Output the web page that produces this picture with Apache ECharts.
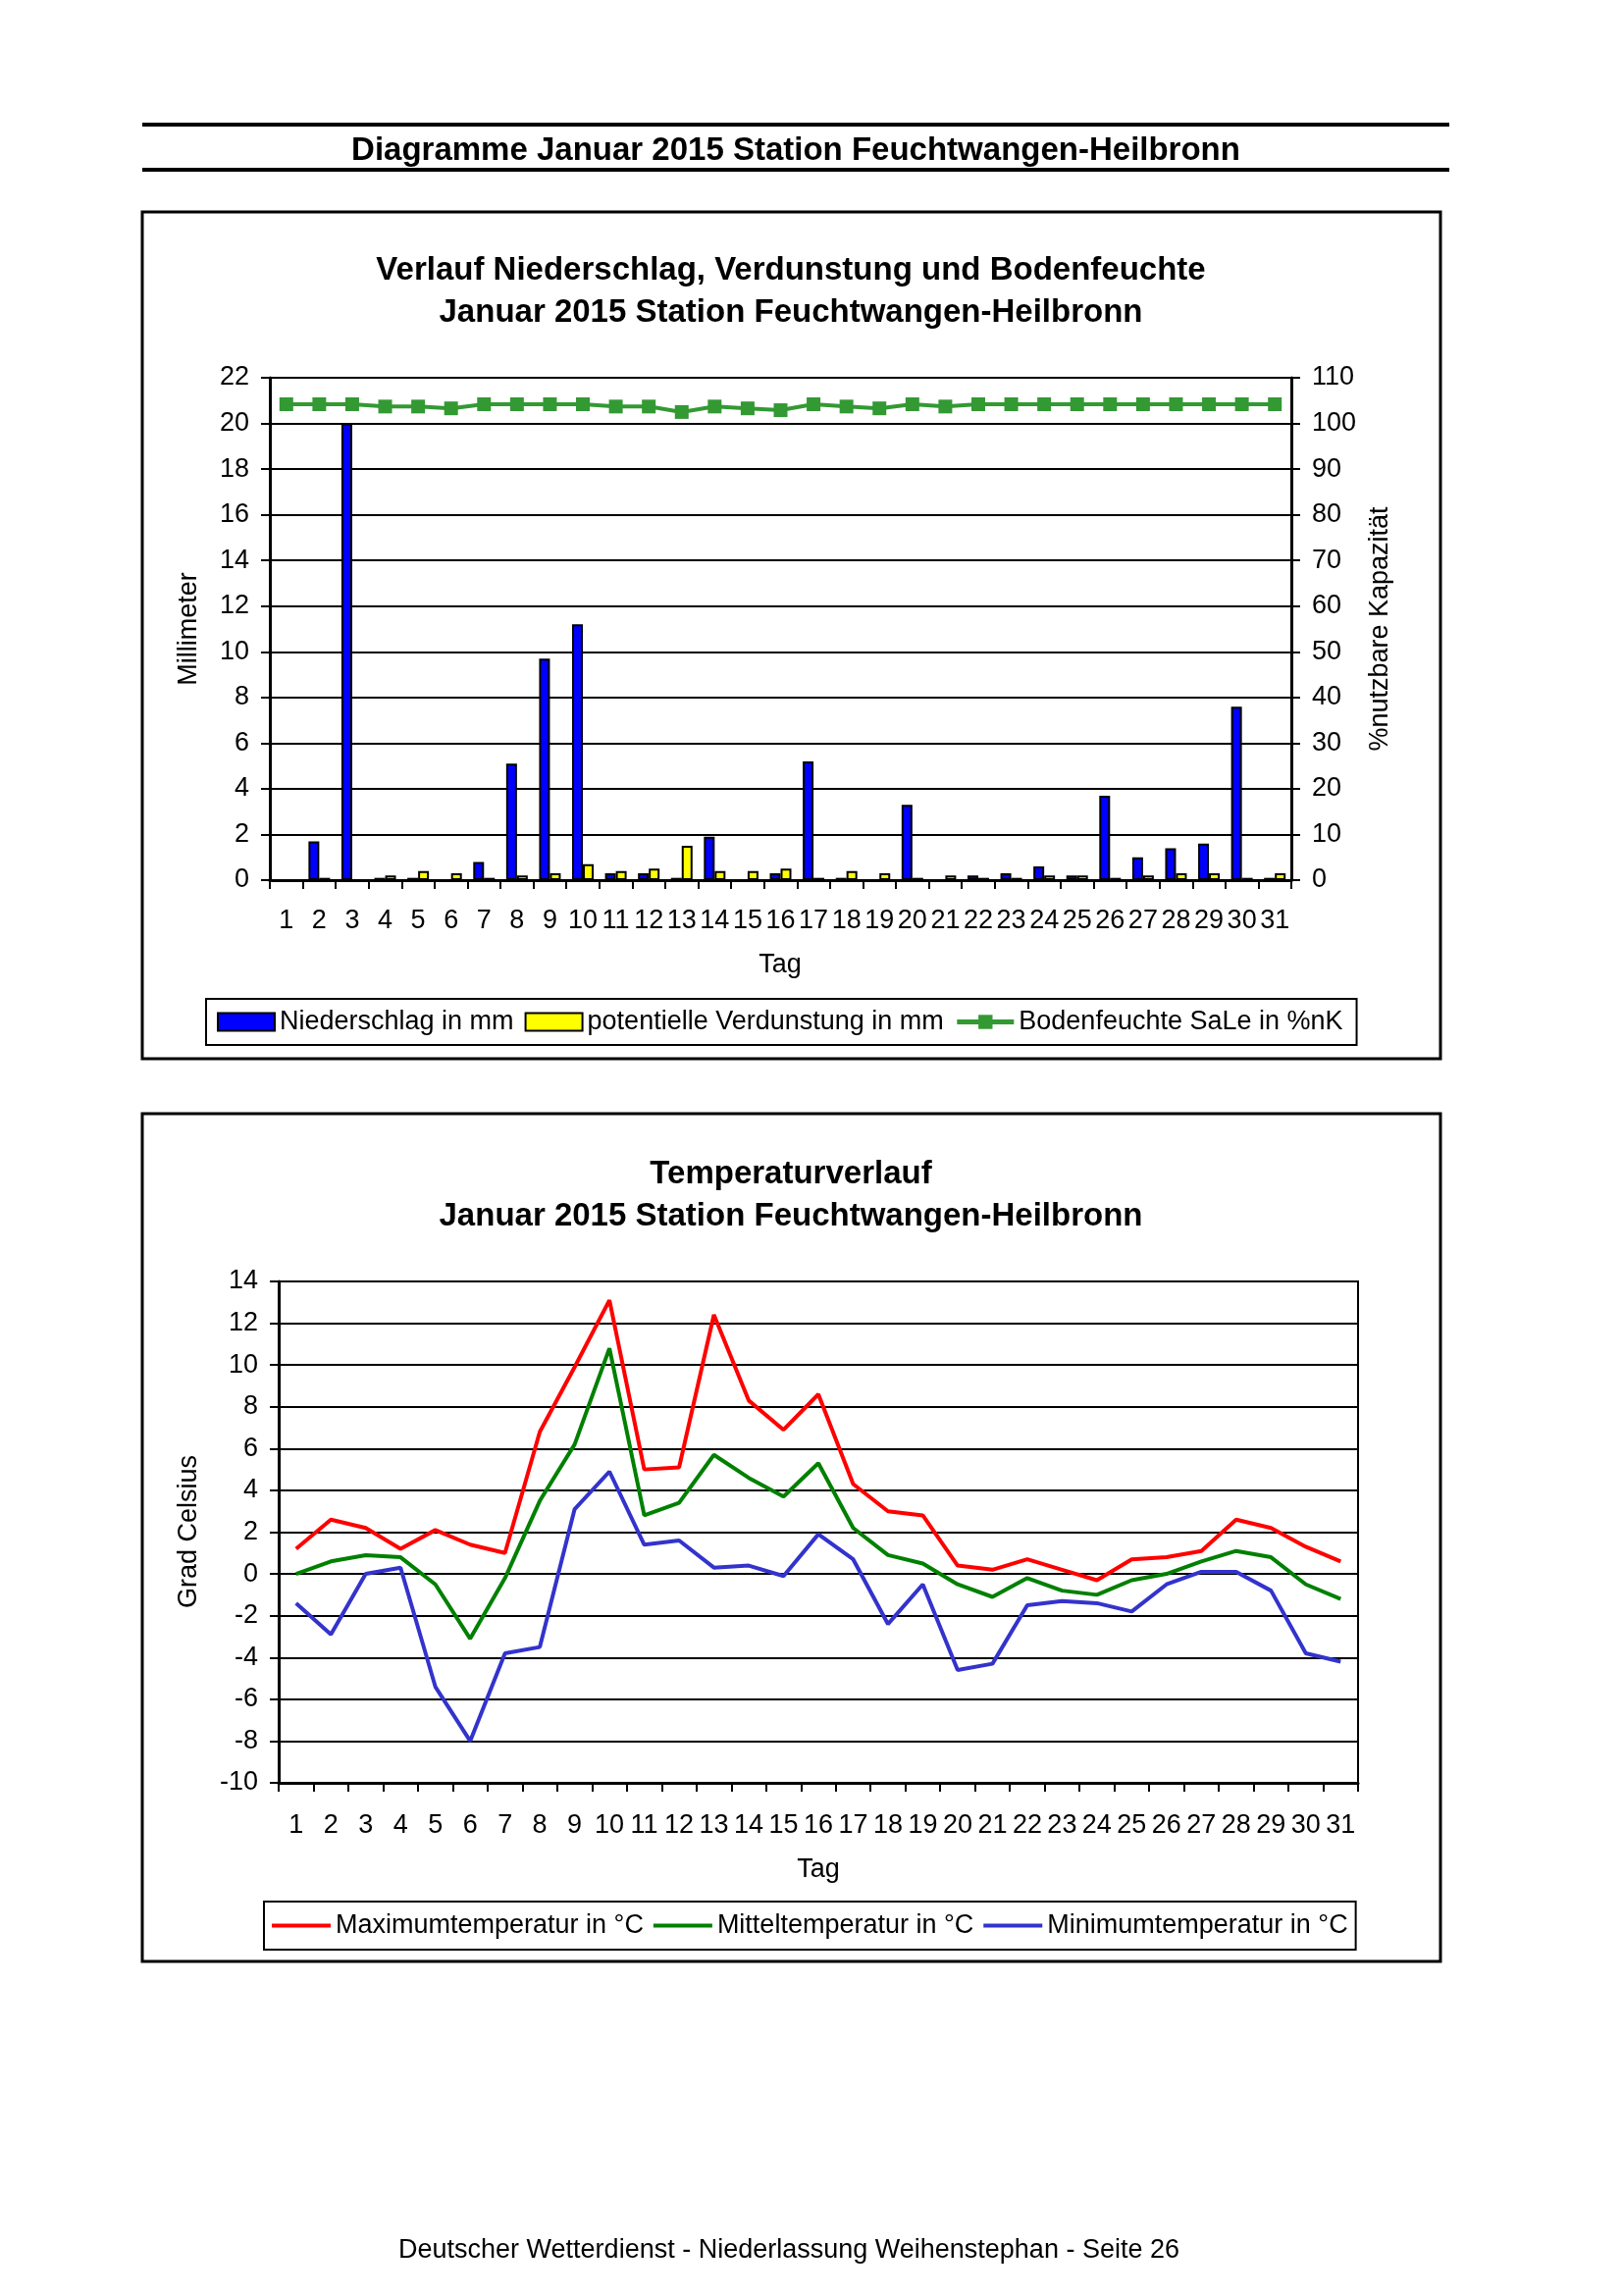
<!DOCTYPE html>
<html><head><meta charset="utf-8">
<script src="https://cdn.jsdelivr.net/npm/echarts@6/dist/echarts.min.js"></script>
<style>html,body{margin:0;padding:0;background:#fff}#c{width:1653px;height:2340px}</style>
</head><body><div id="c"></div>
<script>
const days = ['1','2','3','4','5','6','7','8','9','10','11','12','13','14','15','16','17','18','19','20','21','22','23','24','25','26','27','28','29','30','31'];
const niederschlag = [0,1.7,20.0,0.1,0.1,0,0.8,5.1,9.7,11.2,0.3,0.3,0.1,1.9,0,0.3,5.2,0.1,0,3.3,0,0.2,0.3,0.6,0.2,3.7,1.0,1.4,1.6,7.6,0.1];
const verdunstung = [0,0.1,0,0.2,0.4,0.3,0.1,0.2,0.3,0.7,0.4,0.5,1.5,0.4,0.4,0.5,0.1,0.4,0.3,0.1,0.2,0.1,0.1,0.2,0.2,0.1,0.2,0.3,0.3,0.1,0.3];
const bodenfeuchte = [104.2,104.2,104.2,103.7,103.7,103.3,104.2,104.2,104.2,104.2,103.7,103.7,102.5,103.7,103.3,102.9,104.2,103.7,103.3,104.2,103.7,104.2,104.2,104.2,104.2,104.2,104.2,104.2,104.2,104.2,104.2];
const tmax = [1.2,2.6,2.2,1.2,2.1,1.4,1.0,6.8,9.9,13.1,5.0,5.1,12.4,8.3,6.9,8.6,4.3,3.0,2.8,0.4,0.2,0.7,0.2,-0.3,0.7,0.8,1.1,2.6,2.2,1.3,0.6];
const tmit = [0.0,0.6,0.9,0.8,-0.5,-3.1,-0.2,3.5,6.2,10.8,2.8,3.4,5.7,4.6,3.7,5.3,2.2,0.9,0.5,-0.5,-1.1,-0.2,-0.8,-1.0,-0.3,0.0,0.6,1.1,0.8,-0.5,-1.2];
const tmin = [-1.4,-2.9,0.0,0.3,-5.4,-8.0,-3.8,-3.5,3.1,4.9,1.4,1.6,0.3,0.4,-0.1,1.9,0.7,-2.4,-0.5,-4.6,-4.3,-1.5,-1.3,-1.4,-1.8,-0.5,0.1,0.1,-0.8,-3.8,-4.2];

const FONT = "'Liberation Sans', Arial, sans-serif";
const chart = echarts.init(document.getElementById('c'), null, {renderer:'canvas'});

function txt(x, y, s, size, bold, rot) {
  return {type:'text', x:x, y:y, rotation: rot||0,
    style:{text:s, font:(bold?'bold ':'')+size+'px '+FONT, fill:'#000', textAlign:'center', textVerticalAlign:'middle'}};
}
const axisLbl = {fontSize:27, color:'#000', fontFamily:FONT};
const blackLine = {color:'#000', width:3};

const option = {
  animation:false,
  backgroundColor:'#fff',
  textStyle:{fontFamily:FONT, color:'#000'},
  graphic:[
    {type:'line', shape:{x1:145,y1:127,x2:1477,y2:127}, style:{stroke:'#000', lineWidth:4}},
    {type:'line', shape:{x1:145,y1:173,x2:1477,y2:173}, style:{stroke:'#000', lineWidth:4}},
    txt(811,154,'Diagramme Januar 2015 Station Feuchtwangen-Heilbronn',33,true),
    {type:'rect', shape:{x:145,y:216,width:1323,height:863}, style:{fill:'none', stroke:'#000', lineWidth:3}},
    {type:'rect', shape:{x:145,y:1135,width:1323,height:864}, style:{fill:'none', stroke:'#000', lineWidth:3}},
    txt(806,276,'Verlauf Niederschlag, Verdunstung und Bodenfeuchte',33,true),
    txt(806,319,'Januar 2015 Station Feuchtwangen-Heilbronn',33,true),
    txt(806,1197,'Temperaturverlauf',33,true),
    txt(806,1240,'Januar 2015 Station Feuchtwangen-Heilbronn',33,true),
    txt(193,641,'Millimeter',27,false,Math.PI/2),
    txt(1407,641,'%nutzbare Kapazität',27,false,Math.PI/2),
    txt(193,1561,'Grad Celsius',27,false,Math.PI/2),
    txt(795,984,'Tag',27,false),
    txt(834,1906,'Tag',27,false),
    txt(804,2294,'Deutscher Wetterdienst - Niederlassung Weihenstephan - Seite 26',27,false)
  ],
  grid:[
    {left:275, top:385, width:1041, height:512, show:true, borderColor:'#000', borderWidth:2, backgroundColor:'transparent'},
    {left:284, top:1306, width:1100, height:511, show:true, borderColor:'#000', borderWidth:2, backgroundColor:'transparent'}
  ],
  legend:[
    {left:210, top:1018, orient:'horizontal', padding:[10,14,10,11], itemGap:11, itemWidth:58, itemHeight:18,
     borderColor:'#000', borderWidth:2, backgroundColor:'#fff',
     textStyle:{fontSize:27, color:'#000', fontFamily:FONT},
     data:[
      {name:'Niederschlag in mm', icon:'rect', itemStyle:{color:'#0000ff', borderColor:'#000', borderWidth:2}},
      {name:'potentielle Verdunstung in mm', icon:'rect', itemStyle:{color:'#ffff00', borderColor:'#000', borderWidth:2}},
      {name:'Bodenfeuchte SaLe in %nK', lineStyle:{width:5, color:'#339933'}}
     ]},
    {left:269, top:1938, orient:'horizontal', padding:[11,8,11,8], itemGap:10, itemWidth:60, itemHeight:4,
     borderColor:'#000', borderWidth:2, backgroundColor:'#fff',
     textStyle:{fontSize:27, color:'#000', fontFamily:FONT},
     data:[
      {name:'Maximumtemperatur in °C', icon:'rect', itemStyle:{color:'#ff0000'}},
      {name:'Mitteltemperatur in °C', icon:'rect', itemStyle:{color:'#008000'}},
      {name:'Minimumtemperatur in °C', icon:'rect', itemStyle:{color:'#3333cc'}}
     ]}
  ],
  xAxis:[
    {type:'category', gridIndex:0, data:days, boundaryGap:true,
     axisLine:{onZero:false, lineStyle:blackLine}, axisTick:{show:true, alignWithLabel:false, length:9, lineStyle:{color:'#000', width:2}},
     axisLabel:Object.assign({interval:0, margin:28}, axisLbl), splitLine:{show:false}},
    {type:'category', gridIndex:1, data:days, boundaryGap:true,
     axisLine:{onZero:false, lineStyle:blackLine}, axisTick:{show:true, alignWithLabel:false, length:9, lineStyle:{color:'#000', width:2}},
     axisLabel:Object.assign({interval:0, margin:30}, axisLbl), splitLine:{show:false}}
  ],
  yAxis:[
    {type:'value', gridIndex:0, min:0, max:22, interval:2, position:'left',
     axisLine:{show:true, lineStyle:blackLine}, axisTick:{show:true, length:9, lineStyle:{color:'#000', width:2}},
     axisLabel:Object.assign({margin:21}, axisLbl), splitLine:{show:true, lineStyle:{color:'#000', width:2}}},
    {type:'value', gridIndex:0, min:0, max:110, interval:10, position:'right',
     axisLine:{show:true, lineStyle:blackLine}, axisTick:{show:true, length:9, lineStyle:{color:'#000', width:2}},
     axisLabel:Object.assign({margin:21}, axisLbl), splitLine:{show:false}},
    {type:'value', gridIndex:1, min:-10, max:14, interval:2,
     axisLine:{show:true, lineStyle:blackLine}, axisTick:{show:true, length:9, lineStyle:{color:'#000', width:2}},
     axisLabel:Object.assign({margin:21}, axisLbl), splitLine:{show:true, lineStyle:{color:'#000', width:2}}}
  ],
  series:[
    {name:'Niederschlag in mm', type:'bar', xAxisIndex:0, yAxisIndex:0, data:niederschlag, barWidth:11, barGap:'0%',
     itemStyle:{color:'#0000ff', borderColor:'#000', borderWidth:2}},
    {name:'potentielle Verdunstung in mm', type:'bar', xAxisIndex:0, yAxisIndex:0, data:verdunstung, barWidth:11, barGap:'0%',
     itemStyle:{color:'#ffff00', borderColor:'#000', borderWidth:2}},
    {name:'Bodenfeuchte SaLe in %nK', type:'line', xAxisIndex:0, yAxisIndex:1, data:bodenfeuchte,
     symbol:'rect', symbolSize:14, lineStyle:{color:'#339933', width:4}, itemStyle:{color:'#339933'}},
    {name:'Maximumtemperatur in °C', type:'line', xAxisIndex:1, yAxisIndex:2, data:tmax, showSymbol:false, symbol:'none',
     lineStyle:{color:'#ff0000', width:4}, itemStyle:{color:'#ff0000'}},
    {name:'Mitteltemperatur in °C', type:'line', xAxisIndex:1, yAxisIndex:2, data:tmit, showSymbol:false, symbol:'none',
     lineStyle:{color:'#008000', width:4}, itemStyle:{color:'#008000'}},
    {name:'Minimumtemperatur in °C', type:'line', xAxisIndex:1, yAxisIndex:2, data:tmin, showSymbol:false, symbol:'none',
     lineStyle:{color:'#3333cc', width:4}, itemStyle:{color:'#3333cc'}}
  ]
};
chart.setOption(option);
</script></body></html>
